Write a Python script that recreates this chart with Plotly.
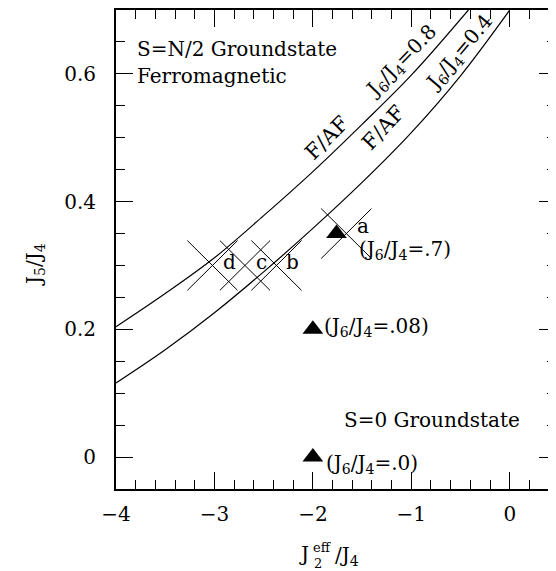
import plotly.graph_objects as go

# ---- data ----
j2_upper = [-4.0, -3.5, -3.0, -2.5, -2.0, -1.5, -1.0, -0.42]
j5_upper = [0.204, 0.256, 0.312, 0.378, 0.447, 0.521, 0.598, 0.70]

j2_lower = [-4.0, -3.5, -3.0, -2.5, -2.0, -1.5, -1.0, -0.5, 0.0]
j5_lower = [0.116, 0.168, 0.226, 0.290, 0.358, 0.430, 0.508, 0.597, 0.70]

tri_x = [-1.76, -2.0, -2.0]
tri_y = [0.35, 0.2, 0.0]
tri_labels = ["(J<sub>6</sub>/J<sub>4</sub>=.7)", "(J<sub>6</sub>/J<sub>4</sub>=.08)",
              "(J<sub>6</sub>/J<sub>4</sub>=.0)"]
tri_label_x = [-1.548, -1.909, -1.892]
tri_label_y = [0.325, 0.204, -0.011]

cross_names = ["d", "c", "b", "a"]
cross_x = [-3.02, -2.69, -2.37, -1.66]
cross_y = [0.30, 0.30, 0.30, 0.35]
cross_dx = 0.255
cross_dy = 0.039
cross_label_x = [-2.85, -2.52, -2.21, -1.495]
cross_label_y = [0.305, 0.305, 0.305, 0.362]

x_ticks = [-4, -3, -2, -1, 0]
y_ticks = [0, 0.2, 0.4, 0.6]
x_range = [-4, 0.47]
y_range = [-0.05, 0.7]

FONT = "DejaVu Serif"

fig = go.Figure()

line_style = dict(color="black", width=1.2)
fig.add_trace(go.Scatter(x=j2_upper, y=j5_upper, mode="lines", line=dict(shape="spline", **line_style),
                         hoverinfo="skip"))
fig.add_trace(go.Scatter(x=j2_lower, y=j5_lower, mode="lines", line=dict(shape="spline", **line_style),
                         hoverinfo="skip"))

# crosses
cxs, cys = [], []
for x0, y0 in zip(cross_x, cross_y):
    cxs += [x0 - cross_dx, x0 + cross_dx, None, x0 - cross_dx, x0 + cross_dx, None]
    cys += [y0 + cross_dy, y0 - cross_dy, None, y0 - cross_dy, y0 + cross_dy, None]
fig.add_trace(go.Scatter(x=cxs, y=cys, mode="lines", line=dict(color="black", width=1),
                         hoverinfo="skip"))

fig.add_trace(go.Scatter(x=tri_x, y=tri_y, mode="markers",
                         marker=dict(symbol="triangle-up", size=18, color="black")))

# right-side mirror ticks only (axis line lies beyond the window)
fig.add_trace(go.Scatter(x=[None], y=[None], yaxis="y2", showlegend=False))

ann = []
def add_text(x, y, text, size=20, xanchor="center", yanchor="middle", angle=0, xref="x", yref="y"):
    ann.append(dict(x=x, y=y, xref=xref, yref=yref, text=text, showarrow=False,
                    xanchor=xanchor, yanchor=yanchor, textangle=angle,
                    font=dict(family=FONT, size=size, color="black")))

for name, lx, ly in zip(cross_names, cross_label_x, cross_label_y):
    add_text(lx, ly, name)
for t, lx, ly in zip(tri_labels, tri_label_x, tri_label_y):
    add_text(lx, ly, t, size=20, xanchor="left")

add_text(-3.807, 0.639, "S=N/2 Groundstate", xanchor="left")
add_text(-3.807, 0.597, "Ferromagnetic", xanchor="left")
add_text(-1.703, 0.058, "S=0 Groundstate", xanchor="left")

add_text(-1.86, 0.50, "F/AF", size=21, angle=-45)
add_text(-1.097, 0.620, "J<sub>6</sub>/J<sub>4</sub>=0.8", size=20, angle=-46)
add_text(-1.287, 0.515, "F/AF", size=21, angle=-47)
add_text(-0.514, 0.633, "J<sub>6</sub>/J<sub>4</sub>=0.4", size=20, angle=-50)

# page offset of the figure inside the browser (body margin)
OFF = 8
FW, FH = 556 - OFF, 571 - OFF
# plot area in page pixels
L, T, W, H = 116, 10, 440, 479

def px(xp):
    return (xp - L) / W
def py(yp):
    return (T + H - yp) / H

add_text(px(311), py(554), "J", xanchor="right", xref="paper", yref="paper")
add_text(px(311), py(547), "eff", size=13, xanchor="left", xref="paper", yref="paper")
add_text(px(312), py(563), "2", size=13, xanchor="left", xref="paper", yref="paper")
add_text(px(333), py(556), "/J<sub>4</sub>", xanchor="left", xref="paper", yref="paper")
add_text(px(35), py(265), "J<sub>5</sub>/J<sub>4</sub>", angle=-90, xref="paper", yref="paper")

fig.update_layout(
    width=FW, height=FH,
    margin=dict(l=L - OFF, r=FW - (L - OFF) - W, t=T - OFF, b=FH - (T - OFF) - H, pad=0,
                autoexpand=False),
    paper_bgcolor="white", plot_bgcolor="white",
    showlegend=False,
    annotations=ann,
    font=dict(family=FONT, size=20, color="black"),
    xaxis=dict(range=x_range, tickvals=x_ticks, ticks="inside", ticklen=17, tickwidth=1,
               tickcolor="black", showline=True, linecolor="black", linewidth=2,
               mirror="ticks", showgrid=False, zeroline=False,
               minor=dict(dtick=0.2, tick0=0, ticks="inside", ticklen=9, tickcolor="black",
                          tickwidth=1, showgrid=False),
               tickfont=dict(family=FONT, size=20), ticklabelstandoff=6),
    yaxis=dict(range=y_range, tickvals=y_ticks, ticks="inside", ticklen=17, tickwidth=1,
               tickcolor="black", showline=True, linecolor="black", linewidth=2,
               mirror=False, showgrid=False, zeroline=False,
               minor=dict(dtick=0.05, tick0=0, ticks="inside", ticklen=9, tickcolor="black",
                          tickwidth=1, showgrid=False),
               tickfont=dict(family=FONT, size=20), ticklabelstandoff=14),
    yaxis2=dict(range=y_range, overlaying="y", side="right", tickvals=y_ticks,
                ticks="inside", ticklen=17, tickwidth=1, tickcolor="black",
                showline=False, showgrid=False, zeroline=False, showticklabels=False,
                minor=dict(dtick=0.05, tick0=0, ticks="inside", ticklen=9, tickcolor="black",
                           tickwidth=1, showgrid=False)),
)

fig.write_html("out.html")
